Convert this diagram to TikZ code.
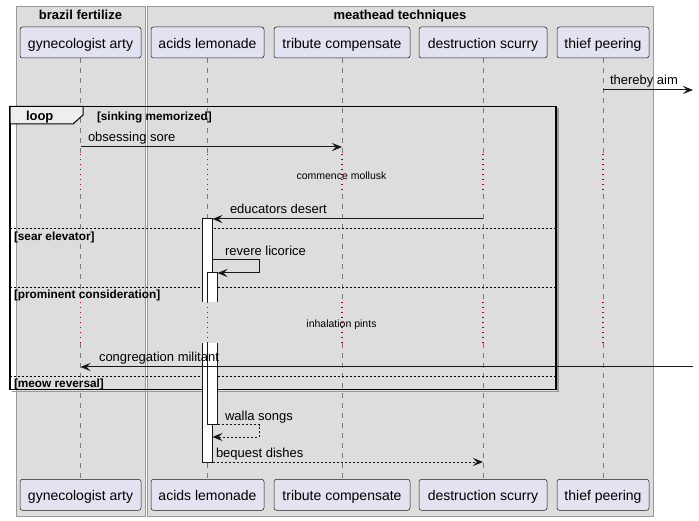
\documentclass[tikz,border=0pt]{standalone}
\usepackage{fontspec}
\setmainfont{Liberation Sans}
\usetikzlibrary{arrows.meta}
\definecolor{boxbg}{HTML}{DDDDDD}
\definecolor{boxline}{HTML}{999999}
\definecolor{partbg}{HTML}{E2E2F0}
\definecolor{partline}{HTML}{181818}
\definecolor{lifecol}{HTML}{7A7A7A}
\definecolor{delayred}{HTML}{B0003A}
\definecolor{tabbg}{HTML}{EEEEEE}
\definecolor{shadowgray}{HTML}{9A9A9A}
\tikzset{
  every node/.style={inner sep=0pt, outer sep=0pt},
  seqbox/.style={fill=boxbg, draw=boxline, line width=0.8pt, anchor=north west},
  boxtitle/.style={font=\fontsize{13}{15}\selectfont\bfseries, anchor=base},
  part/.style={draw=partline, fill=partbg, line width=0.5pt, rounded corners=2.5pt,
    minimum height=31pt, font=\fontsize{14}{16}\selectfont, text height=14pt, text depth=2.4pt},
  lifeline/.style={draw=lifecol, line width=0.8pt, dash pattern=on 5pt off 5pt},
  delayline/.style={draw=delayred, line width=1.3pt, dash pattern=on 1.4pt off 3.6pt},
  msg/.style={draw=partline, line width=1pt, -{Stealth[length=10pt,width=8pt,inset=4pt]}},
  msgret/.style={msg, dash pattern=on 2pt off 2pt},
  msgtext/.style={anchor=base west, font=\fontsize{13}{15}\selectfont},
  delaytext/.style={anchor=base, font=\fontsize{10.5}{12}\selectfont},
  guard/.style={anchor=base west, font=\fontsize{11.8}{13}\selectfont\bfseries},
  sepline/.style={draw=black, line width=0.8pt, dash pattern=on 2pt off 2pt},
  actbar/.style={fill=white},
  actedge/.style={draw=partline, line width=1pt},
}
\begin{document}
\begin{tikzpicture}[x=1pt,y=-1pt]
\useasboundingbox (0,0) rectangle (699,521);
% group boxes
\node[seqbox, minimum width=129pt, minimum height=509.5pt] (boxA) at (16,6.5) {};
\node[seqbox, minimum width=506pt, minimum height=509.5pt] (boxB) at (147,6.5) {};
\node[boxtitle] (titleA) at (80.5,19.5) {brazil fertilize};
\node[boxtitle] (titleB) at (400,19.5) {meathead techniques};
% participants
\node[part, minimum width=121pt] (Tgyn) at (80.5,42.5) {gynecologist arty};
\node[part, minimum width=113pt] (Tacid) at (207.5,42.5) {acids lemonade};
\node[part, minimum width=136pt] (Ttrib) at (342,42.5) {tribute compensate};
\node[part, minimum width=128pt] (Tdest) at (483,42.5) {destruction scurry};
\node[part, minimum width=92pt] (Tthief) at (603,42.5) {thief peering};
\node[part, minimum width=121pt] (Bgyn) at (80.5,494.8) {gynecologist arty};
\node[part, minimum width=113pt] (Bacid) at (207.5,494.8) {acids lemonade};
\node[part, minimum width=136pt] (Btrib) at (342,494.8) {tribute compensate};
\node[part, minimum width=128pt] (Bdest) at (483,494.8) {destruction scurry};
\node[part, minimum width=92pt] (Bthief) at (603,494.8) {thief peering};
% lifelines
\foreach \n/\x in {gyn/80.5, acid/207.5, trib/342, dest/483, thief/603} {
  \coordinate (\n1) at (\x,154);
  \coordinate (\n2) at (\x,194);
  \coordinate (\n3) at (\x,302);
  \coordinate (\n4) at (\x,343);
  \draw[lifeline] (T\n.south) -- (\n1);
  \draw[delayline] (\n1) -- (\n2);
  \draw[lifeline] (\n2) -- (\n3);
  \draw[delayline] (\n3) -- (\n4);
  \draw[lifeline] (\n4) -- (B\n.north);
}
% loop frame
\draw[shadowgray, line width=1.5pt] (12,391.5) -- (558,391.5) -- (558,108.5);
\draw[black, line width=1.5pt] (10,106.5) rectangle (556,389.5);
\draw[black, line width=1pt, fill=tabbg] (10,106.5) -- (83,106.5) -- (83,115) -- (73,124) -- (10,124) -- cycle;
\node[anchor=base west, font=\fontsize{13}{15}\selectfont\bfseries] (looplbl) at (26,121) {loop};
\node[guard] (g1) at (97,120.5) {[sinking memorized]};
\draw[sepline] (10,228.5) -- (556,228.5);
\node[guard] (g2) at (14,241) {[sear elevator]};
\draw[sepline] (10,287.5) -- (556,287.5);
\node[guard] (g3) at (14,298.5) {[prominent consideration]};
\draw[sepline] (10,376.5) -- (556,376.5);
\node[guard] (g4) at (14,387) {[meow reversal]};
% activations
\fill[actbar] (202.5,219) rectangle (212.5,302);
\draw[actedge] (202.5,302) -- (202.5,219) -- (212.5,219) -- (212.5,302);
\fill[actbar] (207.5,273) rectangle (217.5,302);
\draw[actedge] (207.5,302) -- (207.5,273) -- (217.5,273) -- (217.5,302);
\fill[actbar] (202.5,343) rectangle (212.5,462);
\draw[actedge] (202.5,343) -- (202.5,462) -- (212.5,462) -- (212.5,343);
\fill[actbar] (207.5,343) rectangle (217.5,424.5);
\draw[actedge] (207.5,343) -- (207.5,424.5) -- (217.5,424.5) -- (217.5,343);
% messages
\coordinate (m1s) at (603,90);
\coordinate (m1e) at (693,90);
\draw[msg] (m1s) -- (m1e);
\node[msgtext] (l1) at (610,85) {thereby aim};
\coordinate (m2s) at (80.5,147);
\coordinate (m2e) at (342,147);
\draw[msg] (m2s) -- (m2e);
\node[msgtext] (l2) at (88,142) {obsessing sore};
\node[delaytext] (d1) at (341.5,179.5) {commence mollusk};
\coordinate (m3s) at (483,219);
\coordinate (m3e) at (212.5,219);
\draw[msg] (m3s) -- (m3e);
\node[msgtext] (l3) at (230,214) {educators desert};
\coordinate (m4s) at (212.5,260);
\coordinate (m4a) at (259,260);
\coordinate (m4b) at (259,273);
\coordinate (m4e) at (217.5,273);
\draw[msg] (m4s) -- (m4a) -- (m4b) -- (m4e);
\node[msgtext] (l4) at (225,255.5) {revere licorice};
\node[delaytext] (d2) at (341.5,327.5) {inhalation pints};
\coordinate (m5s) at (693,367);
\coordinate (m5e) at (80.5,367);
\draw[msg] (m5s) -- (m5e);
\node[msgtext] (l5) at (99,361.5) {congregation militant};
\coordinate (m6s) at (217.5,424.5);
\coordinate (m6a) at (259,424.5);
\coordinate (m6b) at (259,437);
\coordinate (m6e) at (212.5,437);
\draw[msgret] (m6s) -- (m6a) -- (m6b) -- (m6e);
\node[msgtext] (l6) at (225,420) {walla songs};
\coordinate (m7s) at (212.5,462);
\coordinate (m7e) at (483,462);
\draw[msgret] (m7s) -- (m7e);
\node[msgtext] (l7) at (216,457.5) {bequest dishes};
\end{tikzpicture}
\end{document}
